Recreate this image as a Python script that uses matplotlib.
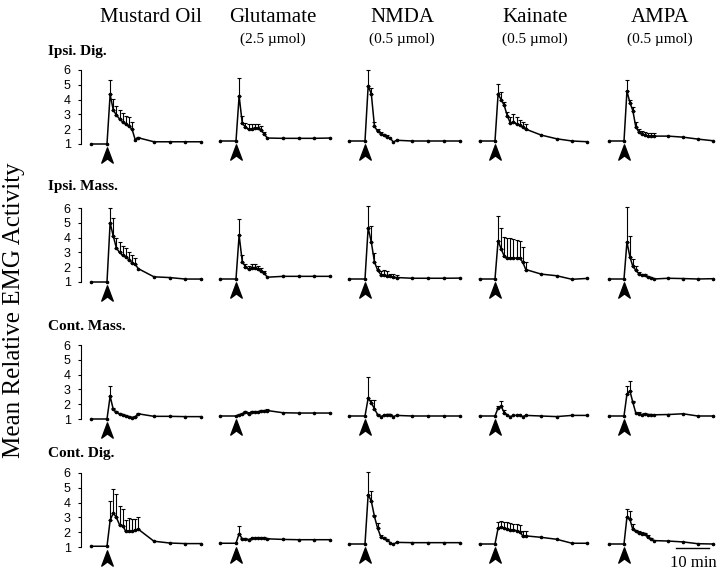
import matplotlib
matplotlib.use('Agg')
import matplotlib.pyplot as plt
import numpy as np
from matplotlib.path import Path
from matplotlib.lines import Line2D

# time grid (min), injection at 0
minutes = [-5, 0, 1, 2, 3, 4, 5, 6, 7, 8, 9, 10, 15, 20, 25, 30]

drugs = ['Mustard Oil', 'Glutamate', 'NMDA', 'Kainate', 'AMPA']
doses = ['', '(2.5 \u00b5mol)', '(0.5 \u00b5mol)', '(0.5 \u00b5mol)', '(0.5 \u00b5mol)']
muscles = ['Ipsi. Dig.', 'Ipsi. Mass.', 'Cont. Mass.', 'Cont. Dig.']

# mean relative EMG, one list per drug
ipsi_dig_mean = [
    [1, 1, 4.35, 3.3, 2.95, 2.7, 2.5, 2.35, 2.2, 2.0, 1.3, 1.42, 1.15, 1.15, 1.15, 1.15],
    [1, 1, 4.05, 2.2, 1.95, 1.78, 1.82, 1.88, 1.85, 1.75, 1.48, 1.2, 1.18, 1.18, 1.18, 1.2],
    [1, 1, 4.7, 4.2, 2.0, 1.65, 1.5, 1.4, 1.3, 1.2, 0.92, 1.05, 1.0, 1.0, 1.0, 1.0],
    [1, 1, 4.15, 3.8, 3.4, 2.7, 2.2, 2.3, 2.15, 2.05, 1.95, 1.8, 1.4, 1.15, 1.0, 0.95],
    [1, 1, 4.37, 3.6, 3.05, 1.95, 1.62, 1.5, 1.4, 1.33, 1.33, 1.33, 1.33, 1.26, 1.13, 1.02],
]
ipsi_dig_err = [
    [0, 0, 1.0, 0.75, 0.65, 0.6, 0.6, 0.55, 0.6, 0.5, 0, 0.08, 0, 0, 0, 0],
    [0, 0, 1.2, 0.5, 0.25, 0.35, 0.35, 0.3, 0.3, 0.25, 0.1, 0, 0, 0, 0, 0],
    [0, 0, 1.1, 0.4, 0.3, 0.15, 0.1, 0.1, 0.1, 0, 0, 0, 0, 0, 0, 0],
    [0, 0, 0.7, 0.5, 0.25, 0.25, 0.45, 0.5, 0.45, 0.4, 0.35, 0.35, 0, 0, 0, 0],
    [0, 0, 0.77, 0.2, 0.22, 0.33, 0.22, 0.18, 0.22, 0.22, 0.2, 0.2, 0, 0, 0, 0],
]
ipsi_mass_mean = [
    [1, 1, 5.0, 4.1, 3.3, 3.0, 2.8, 2.7, 2.5, 2.3, 2.2, 1.9, 1.35, 1.3, 1.2, 1.2],
    [1, 1, 3.96, 2.17, 1.84, 1.68, 1.77, 1.77, 1.7, 1.55, 1.4, 1.12, 1.18, 1.18, 1.18, 1.18],
    [1, 1, 4.46, 3.5, 2.15, 1.6, 1.3, 1.28, 1.22, 1.18, 1.12, 1.1, 1.05, 1.05, 1.05, 1.06],
    [1, 1, 3.58, 3.03, 2.54, 2.41, 2.41, 2.41, 2.41, 2.41, 2.14, 1.64, 1.33, 1.22, 0.98, 1.04],
    [1, 1, 3.5, 2.5, 1.85, 1.6, 1.35, 1.25, 1.25, 1.15, 1.1, 1.0, 1.05, 1.03, 1.0, 1.02],
]
ipsi_mass_err = [
    [0, 0, 1.0, 1.2, 0.7, 0.7, 0.6, 0.6, 0.5, 0.5, 0.4, 0, 0, 0, 0, 0],
    [0, 0, 1.1, 0.45, 0.2, 0.22, 0.22, 0.22, 0.18, 0.2, 0.15, 0, 0, 0, 0, 0],
    [0, 0, 1.5, 1.1, 0.6, 0.25, 0.27, 0.32, 0.31, 0.15, 0.2, 0.18, 0, 0, 0, 0],
    [0, 0, 1.65, 1.43, 1.32, 1.36, 1.34, 1.29, 1.23, 1.19, 1.0, 0.51, 0, 0, 0, 0],
    [0, 0, 2.37, 1.43, 0.5, 0.3, 0.1, 0.1, 0.08, 0.05, 0.05, 0, 0, 0, 0, 0],
]
cont_mass_mean = [
    [1, 1, 2.54, 1.65, 1.45, 1.35, 1.27, 1.2, 1.12, 1.1, 1.15, 1.35, 1.18, 1.18, 1.16, 1.16],
    [1.0, 1.0, 1.06, 1.15, 1.28, 1.15, 1.28, 1.28, 1.28, 1.33, 1.33, 1.37, 1.22, 1.2, 1.2, 1.2],
    [1, 1, 2.2, 1.9, 1.48, 1.1, 0.96, 1.04, 1.1, 1.1, 0.96, 1.04, 1.0, 1.0, 1.0, 1.0],
    [1, 1, 1.55, 1.66, 1.22, 1.04, 0.96, 1.04, 1.04, 1.08, 0.96, 1.04, 1.0, 0.96, 1.04, 1.04],
    [1, 1, 2.48, 2.7, 1.92, 1.2, 1.15, 1.1, 1.15, 1.1, 1.1, 1.08, 1.1, 1.15, 1.0, 1.0],
]
cont_mass_err = [
    [0, 0, 0.66, 0.1, 0.1, 0.07, 0.05, 0.05, 0.06, 0.05, 0.05, 0.05, 0, 0, 0, 0],
    [0, 0, 0.08, 0.07, 0.05, 0.12, 0.08, 0.08, 0.08, 0.08, 0.07, 0.08, 0, 0, 0, 0],
    [0, 0, 1.44, 0.2, 0.57, 0.05, 0, 0.06, 0.05, 0.05, 0, 0.04, 0, 0, 0, 0],
    [0, 0, 0.11, 0.34, 0.2, 0, 0, 0, 0, 0, 0, 0, 0, 0, 0, 0],
    [0, 0, 0.52, 0.66, 0.08, 0, 0.1, 0, 0.06, 0, 0, 0, 0, 0, 0, 0],
]
cont_dig_mean = [
    [1.05, 1.05, 2.8, 3.3, 3.0, 2.5, 2.45, 2.05, 2.05, 2.05, 2.15, 2.2, 1.39, 1.27, 1.23, 1.23],
    [1.05, 1.05, 1.7, 1.35, 1.33, 1.3, 1.38, 1.38, 1.4, 1.38, 1.4, 1.35, 1.31, 1.29, 1.29, 1.29],
    [1, 1, 4.34, 3.9, 2.86, 2.07, 1.5, 1.39, 1.27, 1.09, 0.98, 1.11, 1.09, 1.09, 1.09, 1.09],
    [1, 1, 2.07, 2.14, 2.07, 2.02, 1.95, 1.95, 1.9, 1.84, 1.55, 1.55, 1.45, 1.32, 1.05, 1.05],
    [1, 1, 2.82, 2.66, 1.98, 1.86, 1.75, 1.7, 1.66, 1.48, 1.32, 1.23, 1.2, 1.14, 1.02, 1.0],
]
cont_dig_err = [
    [0, 0, 1.3, 1.65, 1.6, 1.25, 1.1, 0.8, 0.9, 0.85, 0.75, 0.8, 0, 0, 0, 0],
    [0, 0, 0.5, 0.05, 0.05, 0.05, 0.05, 0.05, 0.05, 0.05, 0.05, 0.05, 0, 0, 0, 0],
    [0, 0, 1.52, 0.67, 0.12, 0.38, 0.11, 0.1, 0.05, 0, 0, 0, 0, 0, 0, 0],
    [0, 0, 0.41, 0.43, 0.45, 0.45, 0.45, 0.41, 0.43, 0.43, 0.35, 0.34, 0, 0, 0, 0],
    [0, 0, 0.57, 0.57, 0.38, 0.11, 0.11, 0.14, 0.11, 0.14, 0.07, 0, 0, 0, 0, 0],
]

means = [ipsi_dig_mean, ipsi_mass_mean, cont_mass_mean, cont_dig_mean]
errs = [ipsi_dig_err, ipsi_mass_err, cont_mass_err, cont_dig_err]

serif = 'Liberation Serif'
sans = 'Liberation Sans'

W, H = 720, 576
fig = plt.figure(figsize=(W / 100, H / 100), dpi=100)

col_x = [107, 236, 365, 495, 624]        # pixel of t=0
col_ppm = [3.13, 3.13, 3.15, 3.08, 2.95]  # px per minute
row_y = [144, 282, 419, 547]             # pixel of value 1
ppu = 14.8    # px per unit
xmin, xmax = -9, 32
ymin, ymax = 0, 6.3

# arrowhead marker
arrow = Path([(0, 1), (-0.75, -1), (0, -0.45), (0.75, -1), (0, 1)],
             [Path.MOVETO, Path.LINETO, Path.LINETO, Path.LINETO, Path.CLOSEPOLY])

for r in range(4):
    for c in range(5):
        x0 = col_x[c]
        ppm = col_ppm[c]
        y1 = row_y[r] - (0 if c == 0 else 3)
        left = x0 + xmin * ppm
        top = y1 - (ymax - 1) * ppu
        w = (xmax - xmin) * ppm
        h = (ymax - ymin) * ppu
        ax = fig.add_axes([left / W, 1 - (top + h) / H, w / W, h / H])
        ax.set_xlim(xmin, xmax)
        ax.set_ylim(ymin, ymax)
        m = np.array(means[r][c])
        e = np.array(errs[r][c])
        t = np.array(minutes)
        ax.plot(t, m, color='black', lw=1.1, marker='o', ms=1.6, clip_on=False)
        k = e > 0
        ax.errorbar(t[k], m[k], yerr=[np.zeros(k.sum()), e[k]], fmt='none',
                    ecolor='black', elinewidth=0.8, capsize=1.6, capthick=0.8,
                    clip_on=False)
        ax.plot([0], [0.25], marker=arrow, ms=11, color='black', clip_on=False)
        for s in ['top', 'right', 'bottom']:
            ax.spines[s].set_visible(False)
        ax.set_xticks([])
        if c == 0:
            ax.spines['left'].set_position(('data', -8.3))
            ax.spines['left'].set_bounds(1, 6)
            ax.spines['left'].set_linewidth(0.8)
            ax.set_yticks([1, 2, 3, 4, 5, 6])
            ax.tick_params(axis='y', length=2.5, width=0.8, pad=5, labelsize=9)
            for lab in ax.get_yticklabels():
                lab.set_fontfamily(sans)
        else:
            ax.spines['left'].set_visible(False)
            ax.set_yticks([])
        ax.patch.set_visible(False)

# 10 min scale bar (figure pixels)
fig.add_artist(Line2D([676 / W, 709 / W], [1 - 548 / H, 1 - 548 / H],
                      color='black', lw=1.0, transform=fig.transFigure))

# column titles
title_x = [151, 273, 402, 535, 660]
for c in range(5):
    fig.text(title_x[c] / W, 1 - 17 / H, drugs[c], ha='center', va='center',
             fontsize=15, fontfamily=serif)
    if doses[c]:
        fig.text(title_x[c] / W, 1 - 39 / H, doses[c], ha='center', va='center',
                 fontsize=11, fontfamily=serif)

# row labels
label_y = [52, 186, 326, 453]
for r in range(4):
    fig.text(48 / W, 1 - label_y[r] / H, muscles[r], ha='left', va='center',
             fontsize=11, fontweight='bold', fontfamily=serif)

fig.text(14 / W, 1 - 310 / H, 'Mean Relative EMG Activity', rotation=90,
         ha='center', va='center', fontsize=18, fontfamily=serif)
fig.text(693 / W, 1 - 563 / H, '10 min', ha='center', va='center',
         fontsize=12, fontfamily=serif)

fig.savefig('out.png', dpi=100)
